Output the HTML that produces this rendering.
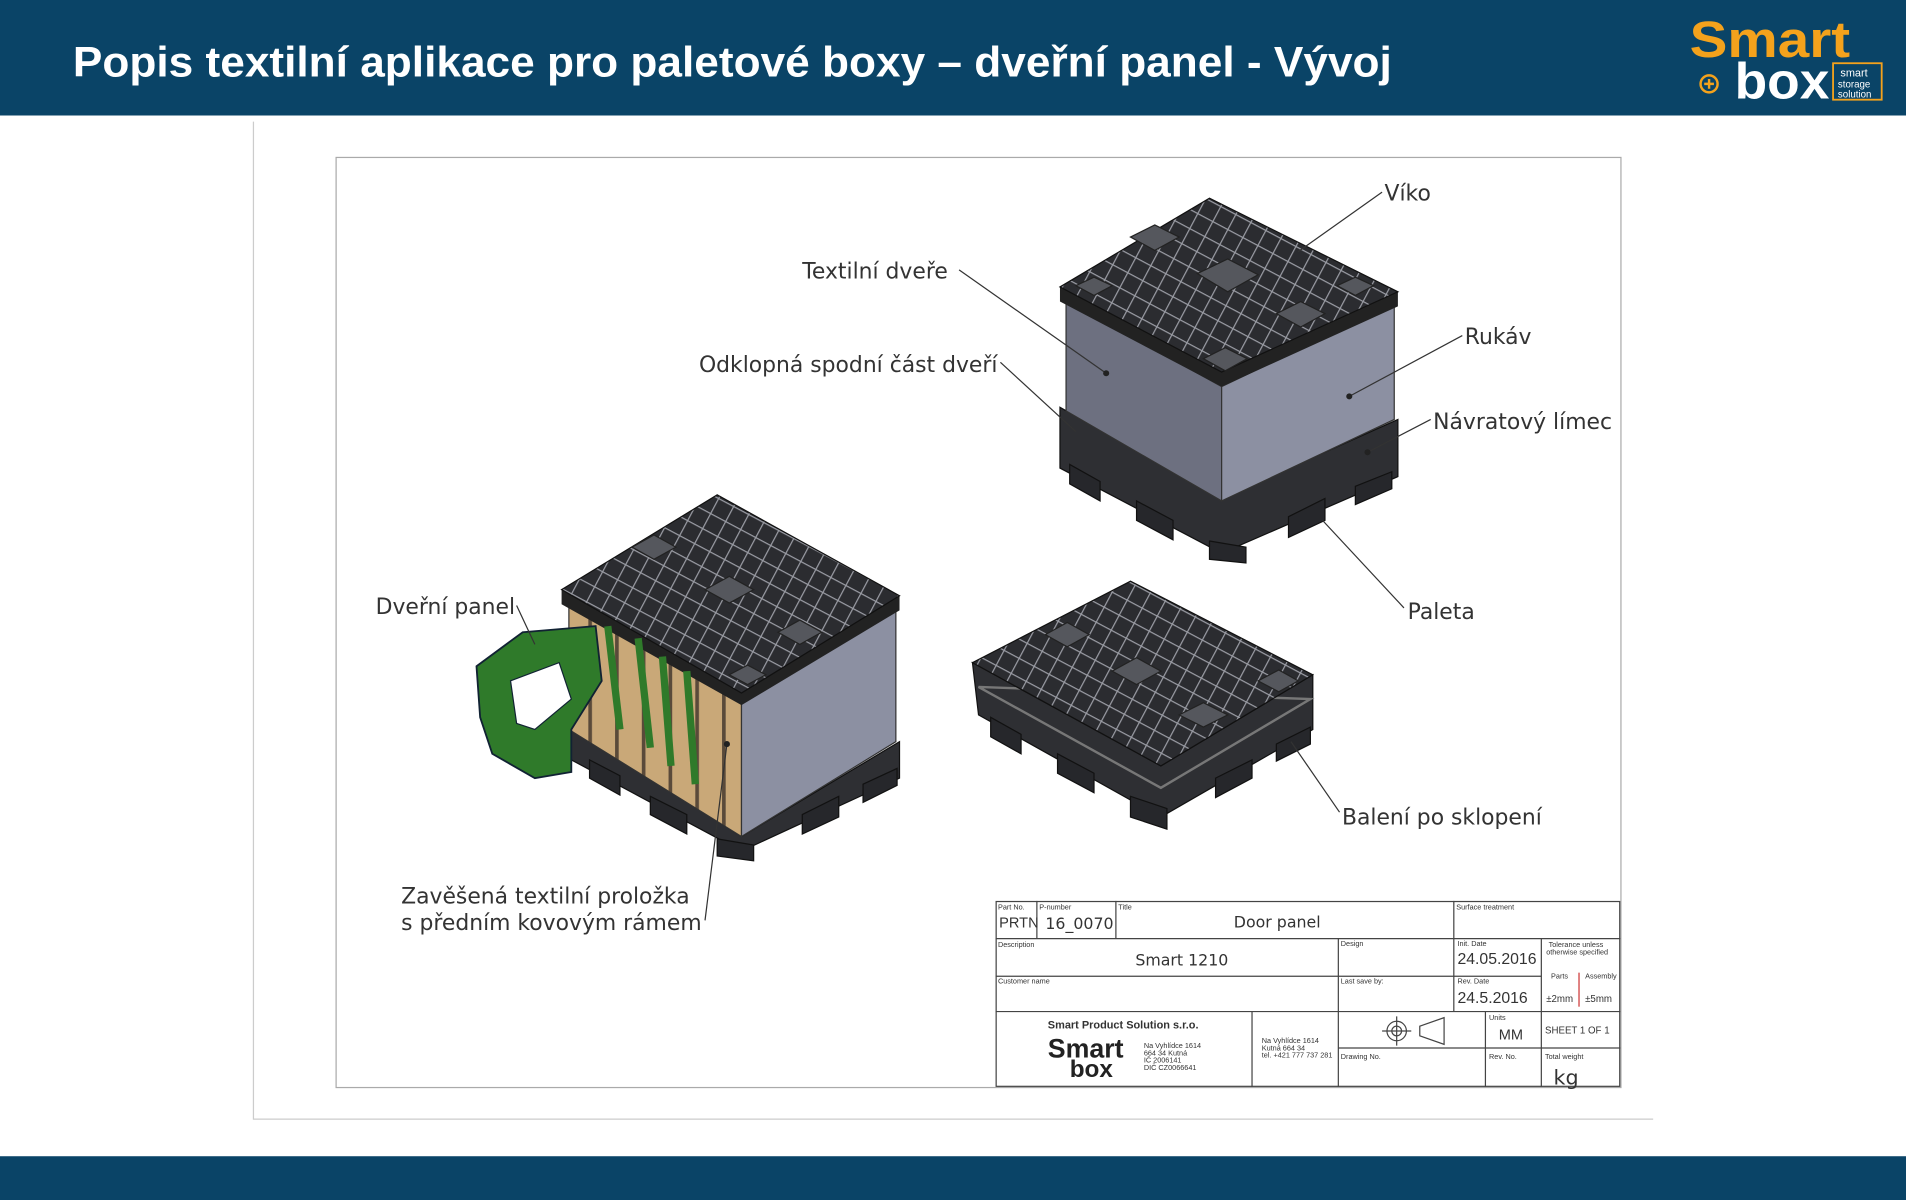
<!DOCTYPE html>
<html><head><meta charset="utf-8">
<style>html,body{margin:0;padding:0;background:#fff;}svg{display:block;}</style>
</head><body>
<svg width="1906" height="1200" viewBox="0 0 1568 987" preserveAspectRatio="none" xmlns="http://www.w3.org/2000/svg">
<defs>
<pattern id="lat" width="14" height="14" patternUnits="userSpaceOnUse" patternTransform="rotate(28)">
<rect width="14" height="14" fill="#2b2c30"/>
<path d="M0 0H14M0 0V14" stroke="#9a9ca4" stroke-width="2"/>
</pattern>
<pattern id="slat" width="22" height="10" patternUnits="userSpaceOnUse">
<rect width="22" height="10" fill="#c9a878"/>
<rect width="3" height="10" fill="#5a4a3a"/>
</pattern>
</defs>
<rect x="0" y="0" width="1568" height="95" fill="#0a4467"/>
<rect x="0" y="951" width="1568" height="36" fill="#0a4467"/>
<text x="60" y="63" fill="#fff" font-family="Liberation Sans, sans-serif" font-weight="bold" font-size="35" textLength="1085" lengthAdjust="spacingAndGlyphs">Popis textilní aplikace pro paletové boxy – dveřní panel - Vývoj</text>
<!-- logo -->
<text x="1390" y="47" fill="#f4a21c" font-family="Liberation Sans, sans-serif" font-weight="bold" font-size="42" textLength="132" lengthAdjust="spacingAndGlyphs">Smart</text>
<text x="1427" y="81" fill="#fff" font-family="Liberation Sans, sans-serif" font-weight="bold" font-size="42" textLength="78" lengthAdjust="spacingAndGlyphs">box</text>
<circle cx="1406" cy="69" r="7" fill="none" stroke="#f4a21c" stroke-width="2"/>
<path d="M1402 69h8M1406 65v8" stroke="#f4a21c" stroke-width="2"/>
<rect x="1508" y="52" width="40" height="30" fill="none" stroke="#f4a21c" stroke-width="1.5"/>
<text x="1514" y="63" fill="#fff" font-family="Liberation Sans, sans-serif" font-size="9">smart</text>
<text x="1512" y="72" fill="#fff" font-family="Liberation Sans, sans-serif" font-size="8">storage</text>
<text x="1512" y="80" fill="#fff" font-family="Liberation Sans, sans-serif" font-size="8">solution</text>
<!-- frame -->
<line x1="208.5" y1="100" x2="208.5" y2="920" stroke="#ccc"/>
<line x1="208" y1="920.5" x2="1360" y2="920.5" stroke="#ccc"/>
<rect x="276.5" y="129.5" width="1057" height="765" fill="#fff" stroke="#aaa"/>

<!-- TOP RIGHT BOX -->
<g>
<polygon points="872,335 1005,410 1150,345 1150,392 1005,455 872,385" fill="#2e2f33" stroke="#111"/>
<g fill="#26272b" stroke="#111">
<polygon points="880,382 905,396 905,412 880,398"/>
<polygon points="935,412 965,428 965,444 935,428"/>
<polygon points="995,445 1025,450 1025,463 995,460"/>
<polygon points="1060,425 1090,410 1090,428 1060,442"/>
<polygon points="1115,400 1145,388 1145,402 1115,415"/>
</g>
<polygon points="877,247 1005,318 1005,412 877,338" fill="#6d7080" stroke="#333"/>
<polygon points="1005,318 1147,250 1147,345 1005,412" fill="#8c90a2" stroke="#333"/>
<polygon points="872,236 995,163 1150,240 1150,252 1005,318 872,248" fill="#222"/>
<polygon points="872,236 995,163 1150,240 1005,306" fill="url(#lat)" stroke="#111"/>
<g fill="#55575d" stroke="#222">
<polygon points="985,225 1010,213 1035,226 1010,240"/>
<polygon points="930,195 950,185 970,195 950,206"/>
<polygon points="1050,258 1070,248 1090,258 1070,269"/>
<polygon points="990,295 1008,286 1026,295 1008,305"/>
<polygon points="885,235 900,228 915,235 900,243"/>
<polygon points="1100,235 1115,228 1130,235 1115,243"/>
</g>
</g>

<!-- BOTTOM RIGHT collapsed -->
<g>
<polygon points="800,545 955,630 1080,555 1080,600 955,672 805,588" fill="#2e2f33" stroke="#111"/>
<g fill="#26272b" stroke="#111">
<polygon points="815,590 840,604 840,620 815,606"/>
<polygon points="870,620 900,636 900,652 870,636"/>
<polygon points="930,655 960,665 960,682 930,672"/>
<polygon points="1000,640 1030,625 1030,640 1000,656"/>
<polygon points="1050,612 1078,598 1078,612 1050,626"/>
</g>
<polygon points="805,565 955,648 1078,575" fill="none" stroke="#777" stroke-width="2"/>
<polygon points="800,545 930,478 1080,555 955,630" fill="url(#lat)" stroke="#111"/>
<g fill="#55575d" stroke="#222">
<polygon points="915,552 935,541 955,552 935,563"/>
<polygon points="860,522 878,512 896,522 878,532"/>
<polygon points="970,588 990,578 1010,588 990,598"/>
<polygon points="1035,560 1052,551 1068,560 1052,569"/>
</g>
</g>

<!-- LEFT BOX -->
<g>
<polygon points="470,600 610,688 740,610 740,640 610,700 470,625" fill="#2e2f33" stroke="#111"/>
<g fill="#26272b" stroke="#111">
<polygon points="485,625 510,638 510,654 485,640"/>
<polygon points="535,655 565,670 565,686 535,670"/>
<polygon points="590,690 620,695 620,708 590,704"/>
<polygon points="660,670 690,655 690,672 660,686"/>
<polygon points="710,645 738,632 738,646 710,660"/>
</g>
<polygon points="468,490 610,575 610,688 468,600" fill="url(#slat)" stroke="#333"/>
<polygon points="610,575 737,500 737,610 610,688" fill="#8c90a2" stroke="#333"/>
<polygon points="462,485 590,407 740,490 740,502 610,580 462,497" fill="#222"/>
<polygon points="462,485 590,407 740,490 610,570" fill="url(#lat)" stroke="#111"/>
<g fill="#55575d" stroke="#222">
<polygon points="580,485 600,474 620,485 600,496"/>
<polygon points="520,450 538,440 556,450 538,460"/>
<polygon points="640,520 658,510 676,520 658,530"/>
<polygon points="600,555 615,547 630,555 615,563"/>
</g>
<path d="M392,548 L430,520 L490,515 L495,560 L470,600 L470,635 L440,640 L405,620 L395,590 Z" fill="#2f7a2a" stroke="#123" stroke-width="1.5"/>
<path d="M420,560 L460,545 L470,575 L440,600 L425,595 Z" fill="#fff" stroke="#123"/>
<path d="M500,515 L510,600 M525,525 L535,615 M545,540 L552,630 M565,552 L572,645" stroke="#2f7a2a" stroke-width="6"/>
</g>

<!-- labels & leaders -->
<g font-family="DejaVu Sans, Liberation Sans, sans-serif" font-size="18" fill="#333" stroke="none">
<text x="1139" y="165">Víko</text>
<text x="660" y="229">Textilní dveře</text>
<text x="575" y="306">Odklopná spodní část dveří</text>
<text x="1205" y="283">Rukáv</text>
<text x="1179" y="353">Návratový límec</text>
<text x="1158" y="509">Paleta</text>
<text x="309" y="505">Dveřní panel</text>
<text x="1104" y="678">Balení po sklopení</text>
<text x="330" y="743">Zavěšená textilní proložka</text>
<text x="330" y="765">s předním kovovým rámem</text>
</g>
<g stroke="#333" stroke-width="1" fill="none">
<line x1="1137" y1="158" x2="1068" y2="207"/>
<line x1="789" y1="222" x2="910" y2="307"/>
<line x1="823" y1="298" x2="885" y2="355"/>
<line x1="1203" y1="276" x2="1110" y2="326"/>
<line x1="1177" y1="345" x2="1125" y2="372"/>
<line x1="1155" y1="500" x2="1088" y2="428"/>
<line x1="425" y1="498" x2="440" y2="530"/>
<line x1="1102" y1="668" x2="1062" y2="610"/>
<line x1="580" y1="757" x2="598" y2="612"/>
</g>
<g fill="#222"><circle cx="910" cy="307" r="2.5"/><circle cx="1110" cy="326" r="2.5"/><circle cx="1125" cy="372" r="2.5"/><circle cx="598" cy="612" r="2.5"/></g>

<!-- title block -->
<g stroke="#444" stroke-width="1" fill="none">
<rect x="819.5" y="741.5" width="513" height="152"/>
<line x1="819" y1="772" x2="1333" y2="772"/>
<line x1="819" y1="803" x2="1268" y2="803"/>
<line x1="819" y1="832" x2="1333" y2="832"/>
<line x1="1101" y1="862" x2="1333" y2="862"/>
<line x1="853" y1="741" x2="853" y2="772"/>
<line x1="918" y1="741" x2="918" y2="772"/>
<line x1="1196" y1="741" x2="1196" y2="832"/>
<line x1="1101" y1="772" x2="1101" y2="894"/>
<line x1="1268" y1="772" x2="1268" y2="894"/>
<line x1="1030" y1="832" x2="1030" y2="894"/>
<line x1="1222" y1="832" x2="1222" y2="894"/>
<line x1="1299" y1="800" x2="1299" y2="828" stroke="#c33"/>
<circle cx="1149" cy="848" r="8"/><circle cx="1149" cy="848" r="4"/>
<path d="M1137 848h24M1149 836v24M1168 844l20-7v22l-20-7z"/>
</g>
<g font-family="Liberation Sans, sans-serif" fill="#333" font-size="6">
<text x="821" y="748">Part No.</text><text x="855" y="748">P-number</text><text x="920" y="748">Title</text>
<text x="1198" y="748">Surface treatment</text>
<text x="821" y="779">Description</text><text x="1103" y="778">Design</text><text x="1199" y="778">Init. Date</text>
<text x="1274" y="779">Tolerance unless</text><text x="1272" y="785">otherwise specified</text>
<text x="821" y="809">Customer name</text><text x="1103" y="809">Last save by:</text><text x="1199" y="809">Rev. Date</text>
<text x="1276" y="805">Parts</text><text x="1304" y="805">Assembly</text>
<text x="1225" y="839">Units</text><text x="1103" y="871">Drawing No.</text><text x="1225" y="871">Rev. No.</text><text x="1271" y="871">Total weight</text>
<text x="1038" y="858">Na Vyhlídce 1614</text><text x="1038" y="864">Kutná 664 34</text><text x="1038" y="870">tel. +421 777 737 281</text>
<text x="941" y="862">Na Vyhlídce 1614</text><text x="941" y="868">664 34 Kutná</text><text x="941" y="874">IČ 2006141</text><text x="941" y="880">DIČ CZ0066641</text>
</g>
<g font-family="Liberation Sans, sans-serif" fill="#333">
<text x="822" y="763" font-size="12">PRTN</text>
<text x="860" y="764" font-size="13" font-family="DejaVu Sans, sans-serif">16_0070</text>
<text x="1015" y="763" font-size="13" font-family="DejaVu Sans, sans-serif">Door panel</text>
<text x="934" y="794" font-size="13" font-family="DejaVu Sans, sans-serif">Smart 1210</text>
<text x="1199" y="793" font-size="13">24.05.2016</text>
<text x="1199" y="825" font-size="13">24.5.2016</text>
<text x="1272" y="824" font-size="8">±2mm</text><text x="1304" y="824" font-size="8">±5mm</text>
<text x="1233" y="855" font-size="12">MM</text>
<text x="1271" y="850" font-size="8">SHEET 1 OF 1</text>
<text x="1278" y="892" font-size="17" font-family="DejaVu Sans, sans-serif">kg</text>
<text x="862" y="846" font-size="9" font-weight="bold">Smart Product Solution s.r.o.</text>
<text x="862" y="870" font-size="22" font-weight="bold" fill="#222">Smart</text>
<text x="880" y="886" font-size="20" font-weight="bold" fill="#222">box</text>
</g>
</svg>
</body></html>
